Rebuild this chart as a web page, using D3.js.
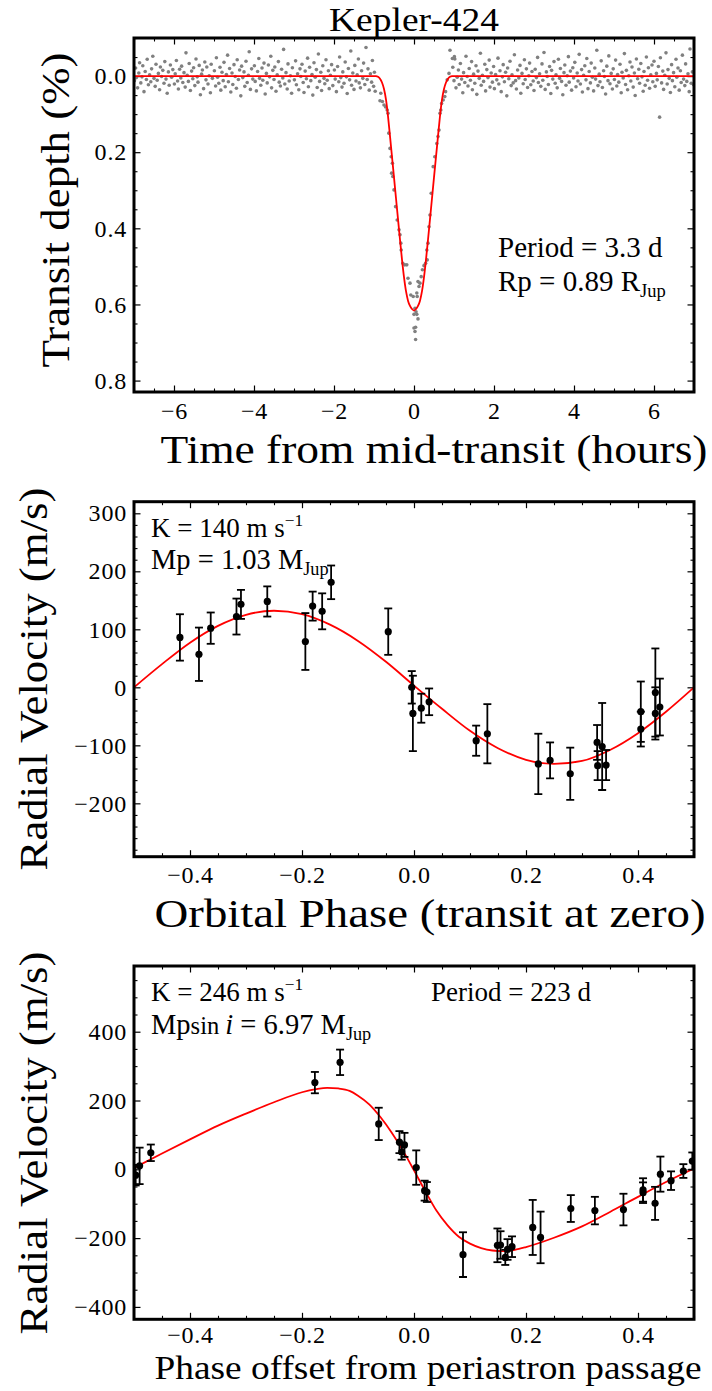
<!DOCTYPE html>
<html>
<head>
<meta charset="utf-8">
<script src="https://cdn.jsdelivr.net/npm/d3@7"></script>
<style>
  body { margin: 0; background: #fff; }
  svg, text, tspan { font-family: "Liberation Serif", "DejaVu Serif", serif; }
  text { fill: #000; }
</style>
</head>
<body>
<svg id="fig" width="712" height="1391" font-family="Liberation Serif, DejaVu Serif, serif"></svg>
<script>
// ---------- Kepler-424 b transit: phase-folded photometry [hours, depth %] ----------
const lcPre = [
[-6.99,.012],[-6.96,-.021],[-6.94,.004],[-6.91,.031],[-6.88,-.008],[-6.86,-.035],[-6.83,.018],[-6.80,.002],[-6.78,-.027],[-6.75,.041],[-6.72,-.012],[-6.69,.009],[-6.67,-.044],[-6.64,.023],[-6.61,-.003],[-6.58,.015],[-6.56,-.019],[-6.53,-.052],[-6.50,.006],[-6.47,.027],[-6.45,-.031],[-6.42,.011],[-6.39,-.007],[-6.36,.036],[-6.34,-.024],[-6.31,.001],[-6.28,-.015],[-6.25,.019],[-6.23,-.038],[-6.20,.008],[-6.17,.045],[-6.14,-.011],[-6.12,.024],[-6.09,-.029],[-6.06,.003],[-6.03,-.017],
[-5.99,.021],[-5.97,-.006],[-5.94,-.041],[-5.91,.013],[-5.89,.034],[-5.86,-.018],[-5.83,.005],[-5.81,-.026],[-5.78,.017],[-5.75,-.009],[-5.72,.029],[-5.70,-.061],[-5.67,-.002],[-5.64,.014],[-5.62,-.033],[-5.59,.038],[-5.56,-.013],[-5.53,.007],[-5.51,-.022],[-5.48,.025],[-5.45,-.045],[-5.42,.002],[-5.40,.016],[-5.37,-.028],[-5.34,.049],[-5.31,-.005],[-5.29,-.016],[-5.26,.033],[-5.23,-.037],[-5.20,.010],[-5.18,-.024],[-5.15,.021],[-5.12,-.001],[-5.09,.044],[-5.07,-.031],[-5.04,.006],
[-4.99,-.014],[-4.96,.026],[-4.94,-.048],[-4.91,.003],[-4.88,.019],[-4.85,-.023],[-4.83,.037],[-4.80,-.010],[-4.77,.012],[-4.75,-.036],[-4.72,.028],[-4.69,-.004],[-4.66,-.055],[-4.64,.015],[-4.61,-.020],[-4.58,.042],[-4.55,-.008],[-4.53,.022],[-4.50,-.030],[-4.47,.001],[-4.44,.032],[-4.42,-.043],[-4.39,.009],[-4.36,-.016],[-4.33,.052],[-4.31,-.026],[-4.28,.004],[-4.25,-.011],[-4.23,.027],[-4.20,-.039],[-4.17,.017],[-4.14,-.002],[-4.12,-.064],[-4.09,.035],[-4.06,-.019],[-4.03,.008],
[-3.99,-.027],[-3.97,.014],[-3.94,.039],[-3.91,-.012],[-3.88,-.046],[-3.86,.006],[-3.83,.024],[-3.80,-.021],[-3.78,.011],[-3.75,-.034],[-3.72,.047],[-3.69,-.007],[-3.67,.018],[-3.64,-.029],[-3.61,.002],[-3.58,-.052],[-3.56,.031],[-3.53,-.015],[-3.50,.009],[-3.48,-.024],[-3.45,.040],[-3.42,-.003],[-3.39,-.038],[-3.37,.016],[-3.34,.026],[-3.31,-.018],[-3.28,.005],[-3.26,-.070],[-3.23,.021],[-3.20,-.009],[-3.17,.034],[-3.15,-.032],[-3.12,.013],[-3.09,-.001],[-3.06,.045],[-3.04,-.022],
[-2.99,.010],[-2.96,-.040],[-2.94,.023],[-2.91,-.006],[-2.88,.036],[-2.85,-.019],[-2.83,.001],[-2.80,-.031],[-2.77,.017],[-2.75,.043],[-2.72,-.013],[-2.69,.007],[-2.66,-.047],[-2.64,.028],[-2.61,-.023],[-2.58,.012],[-2.55,-.004],[-2.53,.050],[-2.50,-.035],[-2.47,.003],[-2.44,-.017],[-2.42,.030],[-2.39,-.058],[-2.36,.014],[-2.33,-.010],[-2.31,.038],[-2.28,-.027],[-2.25,.006],[-2.23,.020],[-2.20,-.043],[-2.17,.011],[-2.14,-.014],[-2.12,.033],[-2.09,-.002],[-2.06,-.030],[-2.03,.025],
[-1.99,-.016],[-1.97,.008],[-1.94,.041],[-1.91,-.025],[-1.88,.015],[-1.86,-.050],[-1.83,.004],[-1.80,.029],[-1.78,-.011],[-1.75,.019],[-1.72,-.037],[-1.69,.002],[-1.67,.046],[-1.64,-.020],[-1.61,.010],[-1.58,-.066],[-1.56,.024],[-1.53,-.008],[-1.50,.035],[-1.48,-.028],[-1.45,.013],[-1.42,-.003],[-1.39,-.045],[-1.37,.018],[-1.34,.031],[-1.31,-.014],[-1.28,.006],[-1.26,-.034],[-1.23,.022],[-1.20,-.075],[-1.17,.009],[-1.15,-.019],[-1.12,.037],[-1.09,-.006],[-1.06,.016],[-1.04,-.041],[-1.01,.027],[-0.99,-.010],[-0.97,.040]
];
const lcTransit = [
[-0.85,.065],[-0.83,.045],[-0.79,.067],[-0.75,.076],[-0.71,.081],[-0.67,.089],[-0.65,.098],[-0.63,.150],[-0.60,.190],[-0.57,.212],[-0.56,.255],[-0.54,.229],[-0.53,.264],[-0.50,.299],[-0.46,.343],[-0.42,.378],[-0.375,.404],[-0.35,.417],[-0.33,.439],[-0.32,.457],[-0.28,.492],[-0.23,.496],[-0.18,.496],[-0.15,.531],[-0.10,.544],[-0.08,.575],[-0.02,.579],[0.0,.626],[0.0,.662],[0.025,.610],[0.025,.671],[0.04,.660],[0.04,.692],[0.05,.619],[0.07,.570],[0.07,.626],[0.08,.579],[0.10,.540],[0.10,.638],[0.125,.553],[0.15,.544],[0.18,.527],[0.21,.509],[0.25,.498],[0.29,.492],[0.32,.457],[0.33,.483],[0.35,.439],[0.375,.396],[0.40,.365],[0.43,.308],[0.48,.238],[0.52,.212],[0.57,.177],[0.60,.159],[0.625,.142],[0.65,.098],[0.67,.089],[0.69,.072],[0.73,.063],[0.77,.054],[0.79,.041],[0.83,.010],[0.875,-.007],[0.90,-.068]
];
const lcPost = [
[0.96,-.046],[0.97,-.023],[1.00,.012],[1.01,-.051],[1.02,-.045],[1.05,.031],[1.08,.003],[1.11,-.016],[1.13,.022],[1.16,-.033],[1.19,.008],[1.22,.044],[1.24,-.009],[1.27,.017],[1.30,-.052],[1.33,.001],[1.35,.026],[1.38,-.020],[1.41,.011],[1.44,-.038],[1.46,.036],[1.49,-.005],[1.52,.019],[1.55,-.027],[1.57,.048],[1.60,-.013],[1.63,.006],[1.66,-.060],[1.68,.024],[1.71,-.002],[1.74,.014],[1.77,-.031],[1.79,.039],[1.82,-.017],[1.85,.004],[1.88,-.042],[1.90,.029],[1.93,-.008],[1.96,.016],
[1.99,-.025],[2.01,.033],[2.04,-.004],[2.07,.010],[2.10,-.047],[2.12,.021],[2.15,-.014],[2.18,.041],[2.21,.002],[2.23,-.030],[2.26,.015],[2.29,-.010],[2.32,.052],[2.34,-.021],[2.37,.007],[2.40,-.039],[2.43,.025],[2.45,-.003],[2.48,.018],[2.51,-.056],[2.54,.012],[2.56,.034],[2.59,-.016],[2.62,.005],[2.65,-.028],[2.67,.045],[2.70,-.007],[2.73,.020],[2.76,-.043],[2.78,.009],[2.81,-.019],[2.84,.030],[2.87,-.001],[2.89,-.034],[2.92,.023],[2.95,-.012],[2.98,.013],
[3.00,.038],[3.03,-.018],[3.06,.004],[3.09,-.049],[3.11,.017],[3.14,-.006],[3.17,.027],[3.20,-.032],[3.22,.011],[3.25,-.062],[3.28,.035],[3.31,-.011],[3.33,.001],[3.36,.022],[3.39,-.025],[3.42,.046],[3.44,-.015],[3.47,.008],[3.50,-.038],[3.53,.019],[3.55,-.003],[3.58,.031],[3.61,-.044],[3.64,.006],[3.66,-.020],[3.69,.014],[3.72,.049],[3.75,-.009],[3.77,-.029],[3.80,.024],[3.83,-.001],[3.86,-.051],[3.88,.016],[3.91,-.013],[3.94,.037],[3.97,-.022],
[3.99,.005],[4.02,-.036],[4.05,.028],[4.08,-.008],[4.10,.013],[4.13,-.057],[4.16,.021],[4.19,-.017],[4.21,.042],[4.24,-.002],[4.27,-.027],[4.30,.010],[4.32,-.046],[4.35,.033],[4.38,-.012],[4.41,.018],[4.43,-.034],[4.46,.003],[4.49,.039],[4.52,-.021],[4.54,.008],[4.57,-.068],[4.60,.025],[4.63,-.005],[4.65,.015],[4.68,-.040],[4.71,.030],[4.74,-.014],[4.76,.001],[4.79,.047],[4.82,-.026],[4.85,.012],[4.87,-.053],[4.90,.020],[4.93,-.007],[4.96,.034],
[4.98,-.019],[5.01,.009],[5.04,-.042],[5.07,.026],[5.09,-.004],[5.12,.016],[5.15,-.031],[5.18,.044],[5.20,-.010],[5.23,.005],[5.26,-.059],[5.29,.022],[5.31,-.015],[5.34,.036],[5.37,-.001],[5.40,-.037],[5.42,.013],[5.45,-.024],[5.48,.029],[5.51,-.008],[5.53,.051],[5.56,-.045],[5.59,.007],[5.62,-.018],[5.64,.019],[5.67,-.033],[5.70,.002],[5.73,.040],[5.75,-.012],[5.78,.024],[5.81,-.050],[5.84,.011],[5.86,-.022],[5.89,.032],[5.92,-.003],[5.95,-.029],
[5.97,.015],[6.00,-.039],[6.03,.027],[6.06,-.007],[6.08,.010],[6.11,-.025],[6.14,.108],[6.16,-.048],[6.19,.018],[6.22,-.013],[6.24,.035],[6.27,-.002],[6.30,-.061],[6.33,.021],[6.35,-.017],[6.38,.006],[6.41,.043],[6.44,-.030],[6.46,.012],[6.49,-.009],[6.52,.028],[6.55,-.044],[6.57,.003],[6.60,-.021],[6.63,.037],[6.66,-.014],[6.68,.017],[6.71,-.055],[6.74,.008],[6.77,.025],[6.79,-.032],[6.82,.014],[6.85,-.006],[6.88,.041],[6.90,-.071],[6.93,.019],[6.96,-.011],[6.99,.023]
];
// Transit model, tabulated [hours, depth %]
const transitModel = [
[-7,0],[-1.2,0],[-0.95,0],[-0.9,.002],[-0.85,.007],[-0.8,.017],[-0.75,.034],[-0.7,.062],[-0.65,.105],[-0.6,.158],[-0.55,.212],[-0.5,.266],[-0.45,.321],[-0.4,.376],[-0.35,.430],[-0.3,.482],[-0.25,.528],[-0.2,.565],[-0.15,.590],[-0.1,.604],[-0.05,.612],[0,.616],
[0.05,.612],[0.1,.604],[0.15,.590],[0.2,.565],[0.25,.528],[0.3,.482],[0.35,.430],[0.4,.376],[0.45,.321],[0.5,.266],[0.55,.212],[0.6,.158],[0.65,.105],[0.7,.062],[0.75,.034],[0.8,.017],[0.85,.007],[0.9,.002],[0.95,0],[1.2,0],[7,0]
];

// ---------- Kepler-424 b radial velocities [phase, m/s, error m/s] ----------
const rvB = [
[-0.418,86,40],[-0.384,57,46],[-0.363,102,27],[-0.317,122,31],[-0.309,143,25],[-0.262,148,26],
[-0.194,79,49],[-0.181,140,25],[-0.164,131,31],[-0.148,181,29],[-0.046,96,40],
[-0.004,0,28],[-0.002,-45,65],[0.013,-36,25],[0.027,-25,23],[0.111,-92,26],[0.131,-80,51],
[0.222,-132,52],[0.243,-126,31],[0.279,-149,45],[0.327,-95,30],[0.328,-135,25],[0.336,-102,75],[0.343,-134,26],
[0.405,-42,52],[0.405,-72,30],[0.431,-9,76],[0.431,-45,45],[0.439,-34,49]
];
const rvBModel = [
[-0.5,0],[-0.45,40],[-0.4,77],[-0.35,106],[-0.3,125],[-0.25,132],[-0.2,126],[-0.15,108],[-0.1,80],[-0.05,44],
[0,3],[0.05,-37],[0.1,-75],[0.15,-105],[0.2,-125],[0.25,-132],[0.3,-127],[0.35,-108],[0.4,-79],[0.45,-42],[0.5,0]
];

// ---------- Kepler-424 c radial velocities [phase from periastron, m/s, error m/s] ----------
const rvC = [
[-0.497,-17,30],[-0.490,10,53],[-0.470,48,24],[-0.177,252,31],[-0.132,311,37],[-0.063,132,47],
[-0.026,79,32],[-0.022,50,22],[-0.017,71,35],[0.004,5,50],[0.019,-62,29],[0.023,-66,29],
[0.0875,-248,65],[0.149,-221,49],[0.1545,-220,40],[0.163,-256,22],[0.167,-233,30],[0.175,-225,30],
[0.212,-169,80],[0.226,-198,75],[0.280,-114,39],[0.323,-120,40],[0.374,-117,46],[0.409,-60,34],[0.409,-68,30],
[0.4305,-99,48],[0.440,-14,51],[0.459,-33,27],[0.481,-5,20],[0.497,24,25]
];
const rvCModel = [
[-0.5,4],[-0.45,46],[-0.4,87],[-0.35,127],[-0.3,162],[-0.25,195],[-0.2,224],[-0.175,233],[-0.155,237],[-0.135,235],
[-0.115,228],[-0.1,214],[-0.08,189],[-0.06,152],[-0.04,107],[-0.02,55],[0,-3],[0.02,-63],[0.04,-120],[0.06,-163],
[0.08,-196],[0.1,-216],[0.12,-229],[0.14,-236],[0.16,-238],[0.18,-234],[0.2,-226],[0.25,-199],[0.3,-166],[0.35,-124],
[0.4,-80],[0.45,-37],[0.5,2]
];

// ---------- tick labels ----------
const transitXTicks = [-6,-4,-2,0,2,4,6];
const transitYTicks = [0.0,0.2,0.4,0.6,0.8];
const phaseXTicks = [-0.4,-0.2,0.0,0.2,0.4];
const rvBYTicks = [-200,-100,0,100,200,300];
const rvCYTicks = [-400,-200,0,200,400];

// ---------- layout ----------
const FONT = "Liberation Serif, DejaVu Serif, serif";
const svg = d3.select("#fig");
const LEFT = 134, RIGHT = 694;
const TICK_FONT = 24;

function makePanel(cfg) {
  const g = svg.append("g");
  const [top, bottom] = cfg.yPix;
  const x = d3.scaleLinear().domain(cfg.xDomain).range([LEFT, RIGHT]);
  const y = d3.scaleLinear().domain(cfg.yDomain).range(cfg.invert ? [top, bottom] : [bottom, top]);

  const axes = [
    {fn: d3.axisBottom, pos: `translate(0,${bottom})`, scale: x, major: cfg.xTicks, minor: cfg.xMinor, fmt: cfg.xFmt, label: true, pad: cfg.xPad},
    {fn: d3.axisTop, pos: `translate(0,${top})`, scale: x, major: cfg.xTicks, minor: cfg.xMinor},
    {fn: d3.axisLeft, pos: `translate(${LEFT},0)`, scale: y, major: cfg.yTicks, minor: cfg.yMinor, fmt: cfg.yFmt, label: true, pad: 7},
    {fn: d3.axisRight, pos: `translate(${RIGHT},0)`, scale: y, major: cfg.yTicks, minor: cfg.yMinor}
  ];
  axes.forEach(a => {
    const minorVals = a.minor.filter(v => !a.major.some(m => Math.abs(m - v) < 1e-9));
    g.append("g").attr("transform", a.pos)
      .call(a.fn(a.scale).tickValues(minorVals).tickSize(-3.5).tickFormat(""))
      .call(s => s.select(".domain").remove())
      .selectAll("line").attr("stroke-width", 1.1);
    const ax = g.append("g").attr("transform", a.pos)
      .call(a.fn(a.scale).tickValues(a.major).tickSize(-6.5)
        .tickPadding(a.pad || 3)
        .tickFormat(a.label ? d3.format(a.fmt) : ""))
      .call(s => s.select(".domain").remove());
    ax.attr("font-size", TICK_FONT).attr("font-family", FONT);
    ax.selectAll("text").attr("font-family", FONT).attr("letter-spacing", 0.8);
    ax.selectAll("line").attr("stroke-width", 1.2);
  });

  const clipId = "clip" + cfg.id;
  svg.append("clipPath").attr("id", clipId)
    .append("rect").attr("x", LEFT).attr("y", top).attr("width", RIGHT - LEFT).attr("height", bottom - top);
  const plot = g.append("g").attr("clip-path", `url(#${clipId})`);
  return {g, plot, x, y, top, bottom};
}

function drawFrame(p) {
  p.g.append("rect")
    .attr("x", LEFT).attr("y", p.top)
    .attr("width", RIGHT - LEFT).attr("height", p.bottom - p.top)
    .attr("fill", "none").attr("stroke", "#000").attr("stroke-width", 3);
}

function modelLine(p, data) {
  p.plot.append("path")
    .datum(data)
    .attr("fill", "none").attr("stroke", "#ff0000").attr("stroke-width", 1.8)
    .attr("d", d3.line().x(d => p.x(d[0])).y(d => p.y(d[1])).curve(d3.curveMonotoneX));
}

function rvPoints(p, data) {
  const grp = p.plot.append("g").attr("stroke", "#000").attr("stroke-width", 1.8);
  grp.selectAll("line.bar").data(data).join("line").attr("class", "bar")
    .attr("x1", d => p.x(d[0])).attr("x2", d => p.x(d[0]))
    .attr("y1", d => p.y(d[1] - d[2])).attr("y2", d => p.y(d[1] + d[2]));
  ["lo", "hi"].forEach((k, i) => {
    grp.selectAll("line.cap" + k).data(data).join("line").attr("class", "cap" + k)
      .attr("x1", d => p.x(d[0]) - 4).attr("x2", d => p.x(d[0]) + 4)
      .attr("y1", d => p.y(d[1] + (i ? d[2] : -d[2])))
      .attr("y2", d => p.y(d[1] + (i ? d[2] : -d[2])));
  });
  p.plot.append("g").selectAll("circle").data(data).join("circle")
    .attr("cx", d => p.x(d[0])).attr("cy", d => p.y(d[1])).attr("r", 3.6).attr("fill", "#000");
}

// Text with super/subscripts: parts = [[string, kind]], kind in "", "sup", "sub", "small", "it"
function richText(x, y, size, parts, anchor) {
  const t = svg.append("text").attr("x", x).attr("y", y).attr("font-size", size)
    .attr("font-family", FONT).attr("text-anchor", anchor || "start");
  let cur = 0;
  parts.forEach(([str, kind]) => {
    const target = kind === "sup" ? -0.42 * size : kind === "sub" ? 0.2 * size : 0;
    const s = t.append("tspan").text(str).attr("dy", target - cur);
    cur = target;
    if (kind === "sup" || kind === "sub") s.attr("font-size", size * 0.64);
    if (kind === "small") s.attr("font-size", size * 0.86);
    if (kind === "it") s.attr("font-style", "italic");
  });
  return t;
}

// ---------- panel 1: transit light curve ----------
const p1 = makePanel({
  id: 1, yPix: [38, 392], xDomain: [-7, 7], yDomain: [-0.1, 0.83], invert: true, xPad: 10,
  xTicks: transitXTicks, xMinor: d3.range(-7, 7.001, 0.5), xFmt: "d",
  yTicks: transitYTicks, yMinor: d3.range(-0.1, 0.831, 0.05).map(v => +v.toFixed(2)), yFmt: ".1f"
});
p1.plot.append("g").attr("fill", "#808080")
  .selectAll("circle").data(lcPre.concat(lcTransit, lcPost)).join("circle")
  .attr("cx", d => p1.x(d[0])).attr("cy", d => p1.y(d[1])).attr("r", 1.8);
modelLine(p1, transitModel);
drawFrame(p1);

// ---------- panel 2: Kepler-424 b RV ----------
const p2 = makePanel({
  id: 2, yPix: [501.7, 856.7], xDomain: [-0.5, 0.5], yDomain: [-292, 320], xPad: 9,
  xTicks: phaseXTicks, xMinor: d3.range(-0.5, 0.501, 0.05).map(v => +v.toFixed(2)), xFmt: ".1f",
  yTicks: rvBYTicks, yMinor: d3.range(-280, 321, 20), yFmt: "d"
});
modelLine(p2, rvBModel);
rvPoints(p2, rvB);
drawFrame(p2);

// ---------- panel 3: Kepler-424 c RV ----------
const p3 = makePanel({
  id: 3, yPix: [966, 1319.3], xDomain: [-0.5, 0.5], yDomain: [-436, 591], xPad: 7,
  xTicks: phaseXTicks, xMinor: d3.range(-0.5, 0.501, 0.05).map(v => +v.toFixed(2)), xFmt: ".1f",
  yTicks: rvCYTicks, yMinor: d3.range(-400, 591, 50), yFmt: "d"
});
modelLine(p3, rvCModel);
rvPoints(p3, rvC);
drawFrame(p3);

// ---------- titles and axis labels ----------
svg.append("text").attr("x", 414).attr("y", 30.5).attr("text-anchor", "middle")
  .attr("font-family", FONT).attr("font-size", 34)
  .attr("textLength", 170).attr("lengthAdjust", "spacingAndGlyphs").text("Kepler-424");

const xLabel = (cx, y, size, len, str) => svg.append("text")
  .attr("x", cx).attr("y", y).attr("text-anchor", "middle").attr("font-size", size)
  .attr("font-family", FONT)
  .attr("textLength", len).attr("lengthAdjust", "spacingAndGlyphs").text(str);
xLabel(434, 463, 40, 547, "Time from mid-transit (hours)");
xLabel(430, 927, 40, 551, "Orbital Phase (transit at zero)");
xLabel(428, 1379, 34, 547, "Phase offset from periastron passage");

const yLabel = (x, cy, size, len, str) => svg.append("text")
  .attr("transform", `translate(${x},${cy}) rotate(-90)`)
  .attr("text-anchor", "middle").attr("font-size", size).attr("font-family", FONT)
  .attr("textLength", len).attr("lengthAdjust", "spacingAndGlyphs").text(str);
yLabel(69, 210, 40, 315, "Transit depth (%)");
yLabel(47, 679, 40, 383, "Radial Velocity (m/s)");
yLabel(47, 1143, 40, 383, "Radial Velocity (m/s)");

// ---------- annotations ----------
richText(498, 257, 29, [["Period = 3.3 d", ""]]);
richText(498, 291, 29, [["Rp = 0.89 R", ""], ["Jup", "sub"]]);
richText(151, 537, 27, [["K = 140 m s", ""], ["−1", "sup"]]);
richText(151, 569, 28.5, [["Mp = 1.03 M", ""], ["Jup", "sub"]]);
richText(151, 1001, 27, [["K = 246 m s", ""], ["−1", "sup"]]);
richText(151, 1034, 28.5, [["Mp", ""], ["sin ", "small"], ["i", "it"], [" = 6.97 M", ""], ["Jup", "sub"]]);
richText(431, 1001, 27, [["Period = 223 d", ""]]);
</script>
</body>
</html>
